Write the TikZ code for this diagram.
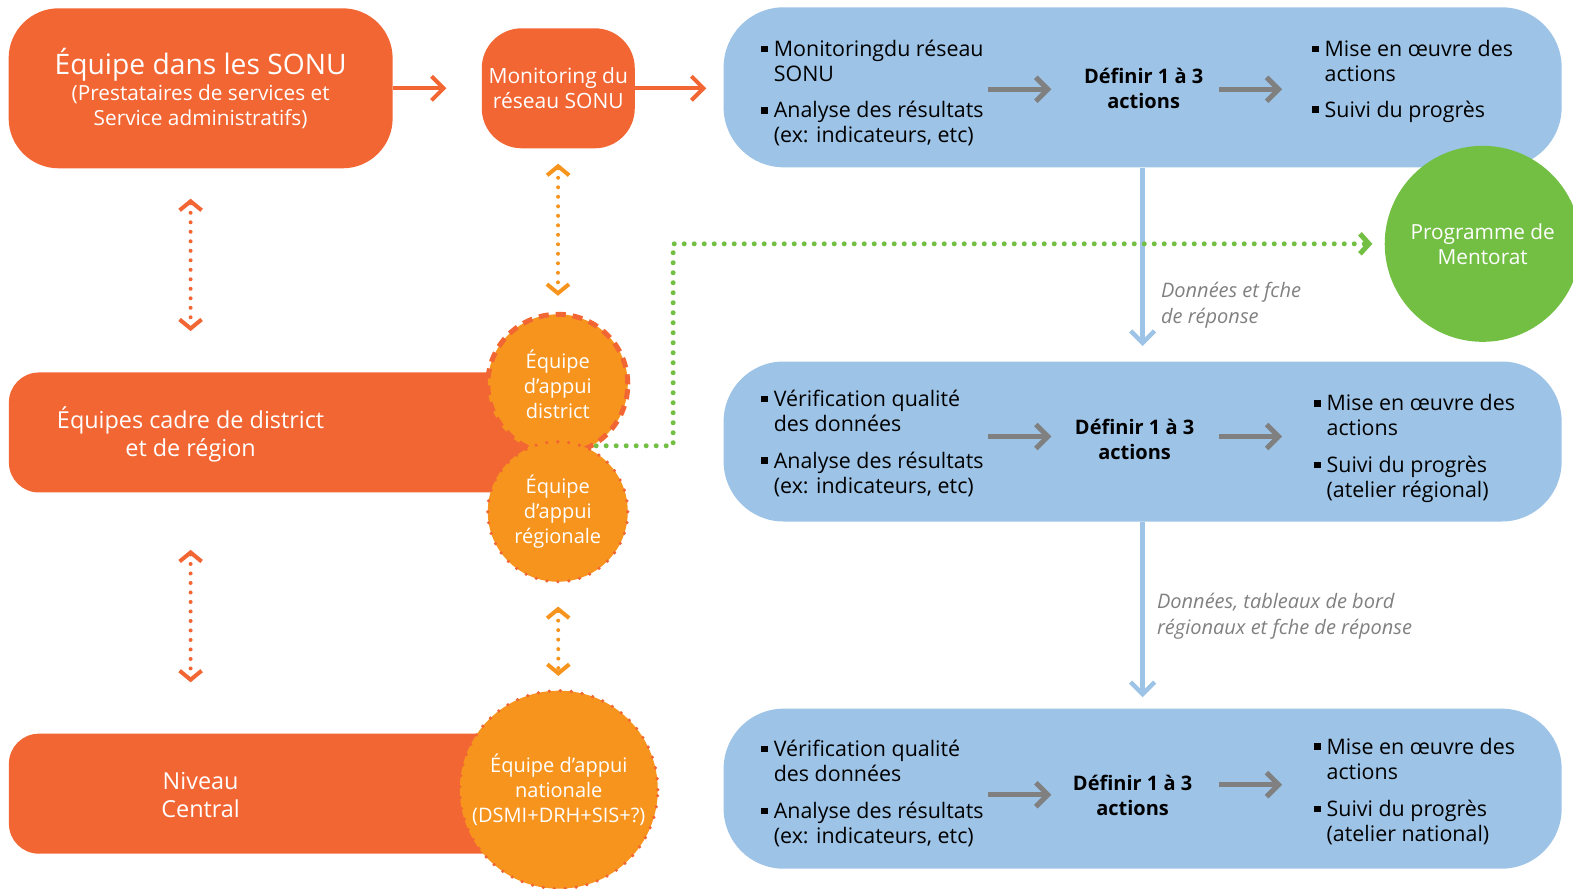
\documentclass[tikz,border=0pt]{standalone}
\usepackage{fontspec}
\setmainfont{Open Sans}
\usetikzlibrary{arrows.meta}

\definecolor{sonuorange}{HTML}{F26633}
\definecolor{appuiorange}{HTML}{F7941E}
\definecolor{cycleblue}{HTML}{9DC3E6}
\definecolor{mentorgreen}{HTML}{72BF44}
\definecolor{arrowgray}{HTML}{808080}

\newcommand\bulletsq{\llap{\rule[0.2em]{0.3em}{0.3em}\hspace{0.28em}}}

\tikzset{
  obox/.style={fill=sonuorange, text=white, align=center, inner sep=0pt,
    font=\fontsize{10.5}{12.5}\selectfont},
  otext/.style={text=white, align=center, inner sep=0pt,
    font=\fontsize{11.7}{14}\selectfont},
  appui/.style={circle, fill=appuiorange, text=white, align=center, inner sep=0pt,
    font=\fontsize{10}{12.5}\selectfont},
  dashedrim/.style={draw=sonuorange, line width=2.5pt, dash pattern=on 5pt off 3.5pt},
  dottedrim/.style={draw=sonuorange, line width=1.8pt, line cap=round, dash pattern=on 0pt off 5.5pt},
  bluebox/.style={fill=cycleblue, rounded corners=30pt, minimum width=419pt,
    minimum height=80pt, inner sep=0pt},
  item/.style={anchor=west, align=left, inner sep=0pt, font=\fontsize{10.7}{12.5}\selectfont},
  defn/.style={align=center, inner sep=0pt, font=\fontsize{10}{12.5}\selectfont\bfseries},
  note/.style={anchor=west, align=left, inner sep=0pt, text=arrowgray,
    font=\fontsize{10}{13}\selectfont\itshape},
  sonuarrow/.style={draw=sonuorange, line width=2pt, -{Straight Barb[length=6pt,width=12pt]}},
  grayarrow/.style={draw=arrowgray, line width=2.5pt, -{Straight Barb[length=6pt,width=12pt]}},
  bluearrow/.style={draw=cycleblue, line width=2.25pt, -{Straight Barb[length=6pt,width=12pt]}},
  sonudots/.style={draw=sonuorange, line width=2pt, line cap=round, dash pattern=on 0pt off 4.75pt,
    {Straight Barb[length=4.5pt,width=11pt]}-{Straight Barb[length=4.5pt,width=11pt]}},
  appuidots/.style={draw=appuiorange, line width=2pt, line cap=round, dash pattern=on 0pt off 4.75pt,
    {Straight Barb[length=4.5pt,width=11pt]}-{Straight Barb[length=4.5pt,width=11pt]}},
  greendots/.style={draw=mentorgreen, line width=2.5pt, line cap=round, dash pattern=on 0pt off 5pt,
    -{Straight Barb[length=4.5pt,width=10pt]}}
}

\begin{document}
\begin{tikzpicture}[x=0.50159pt,y=-0.50169pt]
\useasboundingbox (0,0) rectangle (1568,885);

% left column: teams
\node[obox, minimum width=192pt, minimum height=80pt, rounded corners=25pt] (sonu) at (200,88)
  {{\fontsize{14.1}{16}\selectfont Équipe dans les SONU}\\[0.5pt]{\fontsize{10.4}{12.5}\selectfont(Prestataires de services et}\\{\fontsize{10.4}{12.5}\selectfont Service administratifs)}};
\node[obox, minimum width=76.5pt, minimum height=60pt, rounded corners=20pt] (monit) at (556.5,88)
  {Monitoring du\\réseau SONU};
\node[obox, minimum width=276pt, minimum height=60pt, rounded corners=15pt] (cadre) at (284,431) {};
\node[otext] (cadret) at (190,433) {Équipes cadre de district\\et de région};
\node[obox, minimum width=276pt, minimum height=60pt, rounded corners=15pt] (central) at (284,791) {};
\node[otext] (centralt) at (200,792) {Niveau\\Central};

% support teams
\node[appui, dashedrim, minimum size=70pt] (distr) at (556,383) {Équipe\\d'appui\\district};
\node[appui, dottedrim, minimum size=70pt] (regio) at (556,510) {Équipe\\d'appui\\régionale};
\node[appui, dottedrim, minimum size=99pt] (natio) at (557,787) {Équipe d'appui\\nationale\\(DSMI+DRH+SIS+?)};

% cycles
\node[bluebox] (cycA) at (1139,87) {};
\node[bluebox] (cycB) at (1139,440) {};
\node[bluebox] (cycC) at (1139,786) {};
\node[circle, fill=mentorgreen, minimum size=98pt, inner sep=0pt, text=white, align=center,
  font=\fontsize{10.4}{12.5}\selectfont] (mentor) at (1478,243) {Programme de\\Mentorat};

\node[item] (a1) at (771,60.5) {\bulletsq Monitoringdu réseau\\SONU};
\node[item] (a2) at (771,123.5) {\bulletsq Analyse des résultats\\(ex: indicateurs, etc)};
\node[defn] (defA) at (1140,88.5) {Définir 1 à 3\\actions};
\node[item] (a3) at (1320,60.5) {\bulletsq Mise en œuvre des\\actions};
\node[item] (a4) at (1320,111) {\bulletsq Suivi du progrès};

\node[item] (b1) at (771,409.5) {\bulletsq Vérification qualité\\des données};
\node[item] (b2) at (771,472.5) {\bulletsq Analyse des résultats\\(ex: indicateurs, etc)};
\node[defn] (defB) at (1131,437.5) {Définir 1 à 3\\actions};
\node[item] (b3) at (1322,414) {\bulletsq Mise en œuvre des\\actions};
\node[item] (b4) at (1322,477.5) {\bulletsq Suivi du progrès\\(atelier régional)};

\node[item] (c1) at (771,758.5) {\bulletsq Vérification qualité\\des données};
\node[item] (c2) at (771,821.5) {\bulletsq Analyse des résultats\\(ex: indicateurs, etc)};
\node[defn] (defC) at (1129,792.5) {Définir 1 à 3\\actions};
\node[item] (c3) at (1322,756) {\bulletsq Mise en œuvre des\\actions};
\node[item] (c4) at (1322,819.5) {\bulletsq Suivi du progrès\\(atelier national)};

\node[note] (noteA) at (1157,304.5) {Données et fche\\de réponse};
\node[note] (noteB) at (1153,614) {Données, tableaux de bord\\régionaux et fche de réponse};

% arrows
\draw[sonuarrow, shorten >=17.5pt] (sonu) -- (monit);
\draw[sonuarrow, shorten >=8.5pt] (monit.east) -- (monit.east -| cycA.west);

\coordinate (gA1) at (985,89);   \coordinate (gA2) at (1048,89);
\coordinate (gA3) at (1215,89);  \coordinate (gA4) at (1278,89);
\coordinate (gB1) at (985,435);  \coordinate (gB2) at (1048,435);
\coordinate (gB3) at (1215,435); \coordinate (gB4) at (1278,435);
\coordinate (gC1) at (985,792);  \coordinate (gC2) at (1048,792);
\coordinate (gC3) at (1215,782); \coordinate (gC4) at (1278,782);
\draw[grayarrow] (gA1) -- (gA2);
\draw[grayarrow] (gA3) -- (gA4);
\draw[grayarrow] (gB1) -- (gB2);
\draw[grayarrow] (gB3) -- (gB4);
\draw[grayarrow] (gC1) -- (gC2);
\draw[grayarrow] (gC3) -- (gC4);

\draw[bluearrow, shorten >=7.5pt] (cycA) -- (cycB);
\draw[bluearrow, shorten >=5.5pt] (cycB) -- (cycC);

\draw[sonudots, shorten <=15pt, shorten >=20.5pt] (sonu.south -| cadret) -- (cadre.north -| cadret);
\draw[sonudots, shorten <=28.5pt, shorten >=25.5pt] (cadre.south -| cadret) -- (central.north -| cadret);
\draw[appuidots, shorten <=7.5pt, shorten >=8pt] (monit) -- (distr);
\draw[appuidots, shorten <=11.5pt, shorten >=6.5pt] (regio) -- (natio);

\coordinate (gbend) at (671,243);
\draw[greendots, shorten >=6pt] (distr.-58) -| (gbend) -- (mentor);
\end{tikzpicture}
\end{document}
